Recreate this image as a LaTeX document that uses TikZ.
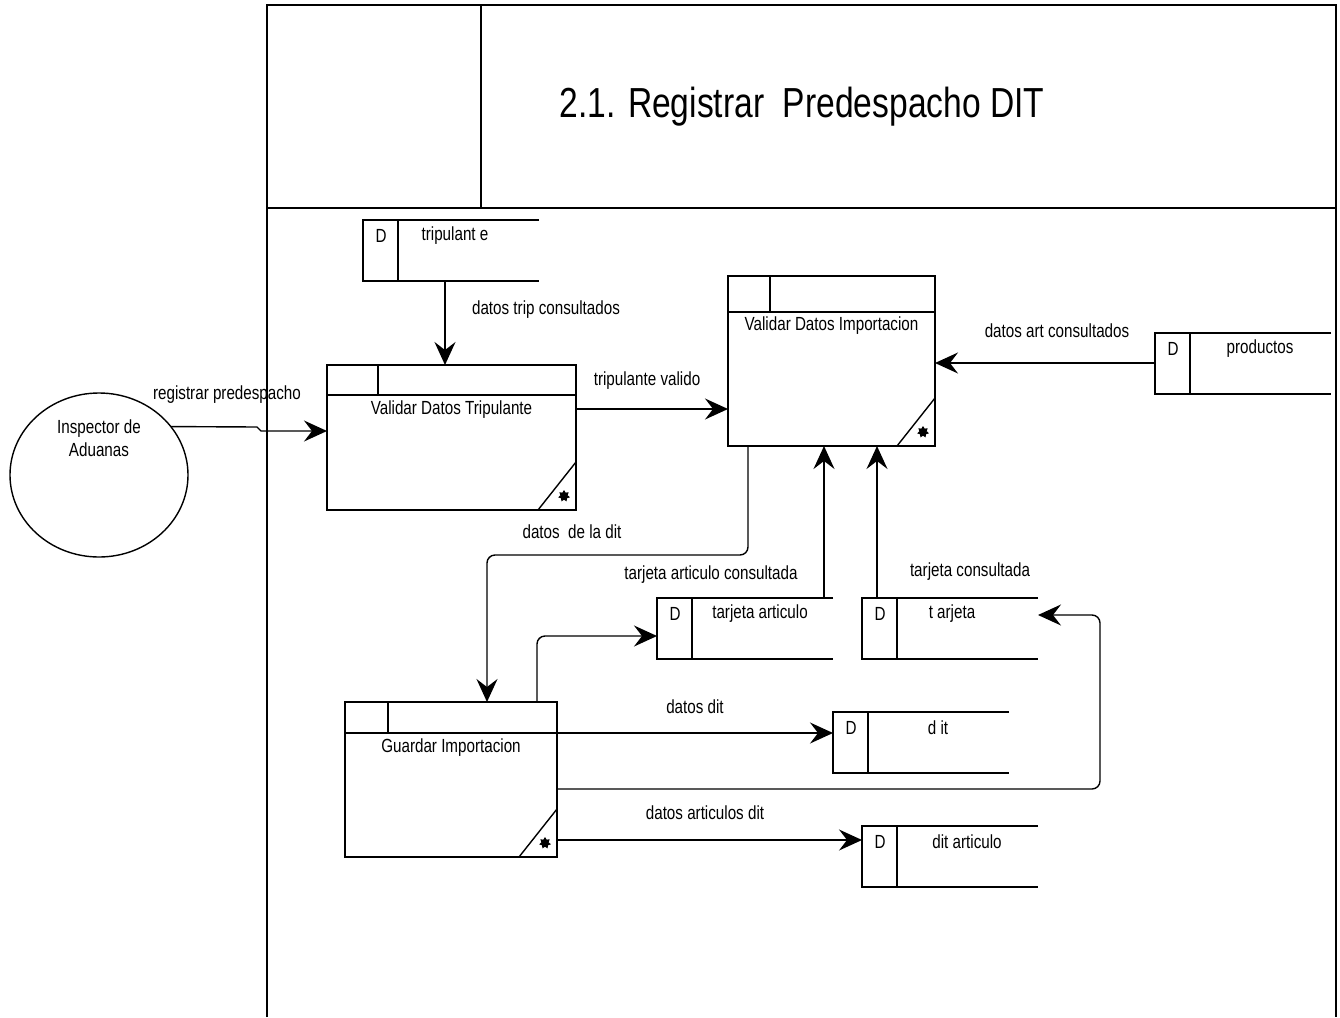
\documentclass[tikz,border=0pt]{standalone}
\usepackage{fontspec}
\setmainfont{Liberation Sans}[FakeStretch=0.8]
\usetikzlibrary{arrows.meta,shapes.geometric,calc}

% data store: name, left, top, text, text x offset
\newcommand\dstore[5]{%
  \node[blank, minimum width=176pt, minimum height=61pt, anchor=north west] (#1) at (#2,#3) {};
  \draw (#1.north east) -- (#1.north west) -- (#1.south west) -- (#1.south east);
  \draw ([xshift=35pt]#1.north west) -- ([xshift=35pt]#1.south west);
  \node[txt] (#1-d) at ([xshift=18pt,yshift=-16pt]#1.north west) {D};
  \node[txt] (#1-t) at ([xshift=#5pt,yshift=-16pt]#1.north west) {#4};
}
% process: name, left, top, width, height, header height, header divider, text offset, text
\newcommand\dfdproc[9]{%
  \node[draw, blank, minimum width=#4pt, minimum height=#5pt, anchor=north west] (#1) at (#2,#3) {};
  \draw ([yshift=-#6pt]#1.north west) -- ([yshift=-#6pt]#1.north east);
  \draw ([xshift=#7pt]#1.north west) -- ([xshift=#7pt,yshift=-#6pt]#1.north west);
  \draw ([xshift=-38pt]#1.south east) -- ([yshift=48pt]#1.south east);
  \node[star, star points=7, star point ratio=1.6, fill, draw=none, inner sep=0pt, minimum size=12pt] (#1-s) at ([xshift=-12pt,yshift=14pt]#1.south east) {};
  \node[txt] (#1-t) at ([yshift=-#8pt]#1.north) {#9};
}

\begin{document}
\begin{tikzpicture}[x=1pt, y=-1pt, line width=1.4pt,
  flow/.style={-{Stealth[length=23pt,width=21pt,inset=8pt]}, rounded corners=8pt},
  txt/.style={inner sep=0pt, font=\fontsize{19}{23}\selectfont},
  blank/.style={inner sep=0pt, outer sep=0pt},
]
\useasboundingbox (0,0) rectangle (1340,1017);

% frame and title block
\draw (267,1017) -- (267,5) -- (1336,5) -- (1336,1017);
\draw (481,5) -- (481,208);
\draw (267,208) -- (1336,208);
\node[inner sep=0pt, anchor=base, font=\fontsize{42}{48}\selectfont] (title) at (802,117) {2.1. Registrar~~Predespacho DIT};

% external entity
\node[draw, ellipse, blank, minimum width=178pt, minimum height=164pt] (insp) at (99,475) {};
\node[txt, align=center] (insp-t) at (99,438) {Inspector de\\Aduanas};

% processes
\dfdproc{vdt}{327}{365}{249}{145}{30}{51}{45}{Validar Datos Tripulante}
\dfdproc{vdi}{728}{276}{207}{170}{36}{42}{50}{Validar Datos Importacion}
\dfdproc{gi}{345}{702}{212}{155}{31}{43}{46}{Guardar Importacion}

% data stores
\dstore{trip}{363}{220}{tripulant e}{92}
\dstore{prod}{1155}{333}{productos}{105}
\dstore{tart}{657}{598}{tarjeta articulo}{103}
\dstore{tarj}{862}{598}{t arjeta}{90}
\dstore{dit}{833}{712}{d it}{105}
\dstore{dita}{862}{826}{dit articulo}{105}

% flows
\draw[flow] ($(trip.south west)+(82,0)$) -- ($(vdt.north west)+(118,0)$);
\node[txt] (l-trip) at (546,310) {datos trip consultados};

\draw[flow, rounded corners=0pt] (insp.34) -- (257,427) -- (261,431) -- ($(vdt.north west)+(0,66)$);
\node[txt] (l-reg) at (227,395) {registrar predespacho};

\draw[flow] ($(vdt.north east)+(0,44)$) -- ($(vdi.north west)+(0,133)$);
\node[txt] (l-val) at (647,381) {tripulante valido};

\draw[flow] ($(prod.north west)+(0,30)$) -- ($(vdi.north east)+(0,87)$);
\node[txt] (l-art) at (1057,331) {datos art consultados};

\draw[flow] ($(vdi.south west)+(20,0)$) |- (620,555) -| ($(gi.north west)+(142,0)$);
\node[txt] (l-dit) at (572,532) {datos~~de la dit};

\draw[flow] ($(tart.north west)+(167,0)$) -- ($(vdi.south west)+(96,0)$);
\node[txt] (l-tart) at (711,575) {tarjeta articulo consultada};

\draw[flow] ($(tarj.north west)+(15,0)$) -- ($(vdi.south west)+(149,0)$);
\node[txt] (l-tarj) at (970,572) {tarjeta consultada};

\draw[flow] ($(gi.north west)+(192,0)$) |- ($(tart.north west)+(0,38)$);

\draw[flow] ($(gi.north east)+(0,31)$) -- ($(dit.north west)+(0,21)$);
\node[txt] (l-gdit) at (695,707) {datos dit};

\draw[flow] ($(gi.north east)+(0,87)$) -| (1100,700) |- ($(tarj.north east)+(0,17)$);

\draw[flow] ($(gi.north east)+(0,138)$) -- ($(dita.north west)+(0,14)$);
\node[txt] (l-gdita) at (705,813) {datos articulos dit};
\end{tikzpicture}
\end{document}
